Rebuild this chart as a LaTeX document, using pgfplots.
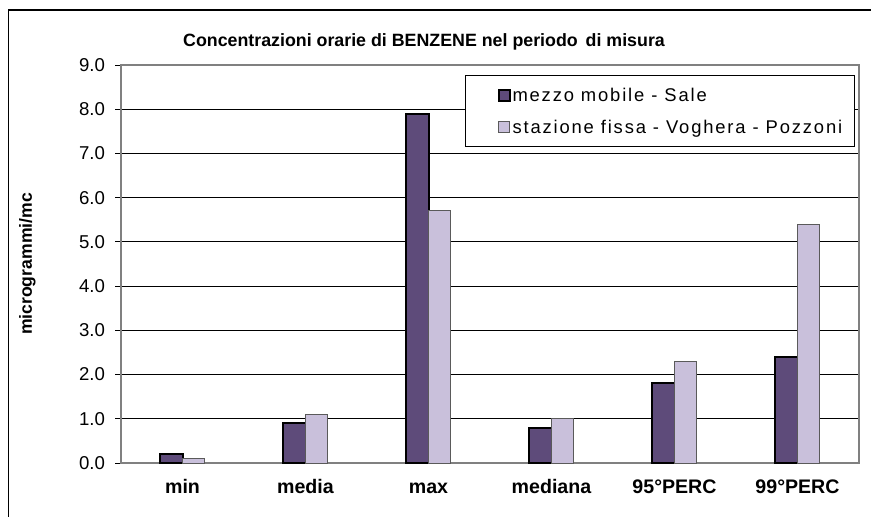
\documentclass[border=0pt]{standalone}
\usepackage{pgfplots}
\pgfplotsset{compat=1.18}
\usepackage{fontspec}
\setmainfont{Liberation Sans}
\newfontfamily\legfont[LetterSpace=10]{Liberation Sans}
\definecolor{darkviolet}{HTML}{5E4B7A}
\definecolor{lightviolet}{HTML}{C9C0DB}
\definecolor{frame}{HTML}{808080}

\begin{document}
\begin{tikzpicture}
\useasboundingbox (0,0) rectangle (435.5pt,258pt);
% outer chart frame
\draw[black, line width=0.6pt] (4.2pt,-2pt) -- (4.2pt,253pt) -- (440pt,253pt);
\node[font=\bfseries\fontsize{8.9}{11}\selectfont] at (212pt,237pt)
  {Concentrazioni orarie di BENZENE nel periodo\ \,di misura};
\begin{axis}[
    at={(60.5pt,26.5pt)}, anchor=south west,
    scale only axis,
    width=369pt, height=199pt,
    ybar=0pt,
    bar width=0.18,
    xmin=-0.5, xmax=5.5,
    ymin=0, ymax=9,
    ytick={0,1,...,9},
    xtick={0,1,2,3,4,5},
    xtick pos=bottom, ytick pos=left,
    xticklabels={min,media,max,mediana,95°PERC,99°PERC},
    x tick label style={font=\bfseries\fontsize{9.8}{11}\selectfont,
      text height=1.6ex, text depth=0.2ex, yshift=-0.5pt},
    major x tick style={draw=none},
    extra x ticks={-0.5,0.5,1.5,2.5,3.5,4.5,5.5},
    extra x tick labels={},
    extra x tick style={major tick length=3pt, tick style={draw=frame, line width=0.6pt}, grid=none},
    y tick label style={font=\fontsize{9.3}{10}\selectfont, xshift=-1.5pt},
    yticklabel={\pgfmathprintnumber[fixed, fixed zerofill, precision=1]{\tick}},
    /pgf/number format/assume math mode=true,
    tick align=outside,
    major tick length=3pt,
    ytick style={draw=black, line width=0.5pt},
    ymajorgrids,
    grid style={black, line width=0.5pt},
    axis line style={frame, line width=0.8pt},
    ylabel={microgrammi/mc},
    every axis y label/.style={at={(axis description cs:-0.127,0.5)}, rotate=90, anchor=center,
      font=\bfseries\fontsize{8.8}{10}\selectfont},
    legend style={at={(rel axis cs:0.466,0.975)}, anchor=north west,
      draw=black, line width=0.6pt, fill=white,
      font=\legfont\fontsize{9.2}{11}\selectfont,
      inner xsep=5pt, inner ysep=2.5pt,
      row sep=1.5pt,
      nodes={inner xsep=1pt, text height=1.6ex, text depth=0.4ex}},
    legend cell align=left,
    legend image code/.code={\path[draw=none, fill=none] (0pt,0pt) -- (17pt,0pt);
      \draw[#1] (11.5pt,-2.8pt) rectangle (17pt,2.8pt);},
]
\addplot[fill=darkviolet, draw=black, line width=1pt] coordinates {
  (0,0.2) (1,0.9) (2,7.9) (3,0.8) (4,1.8) (5,2.4)
};
\addlegendentry{mezzo mobile - Sale}
\addplot[fill=lightviolet, draw=frame!70!black, line width=0.5pt] coordinates {
  (0,0.1) (1,1.1) (2,5.7) (3,1.0) (4,2.3) (5,5.4)
};
\addlegendentry{stazione fissa - Voghera - Pozzoni}
\end{axis}
\end{tikzpicture}
\end{document}
